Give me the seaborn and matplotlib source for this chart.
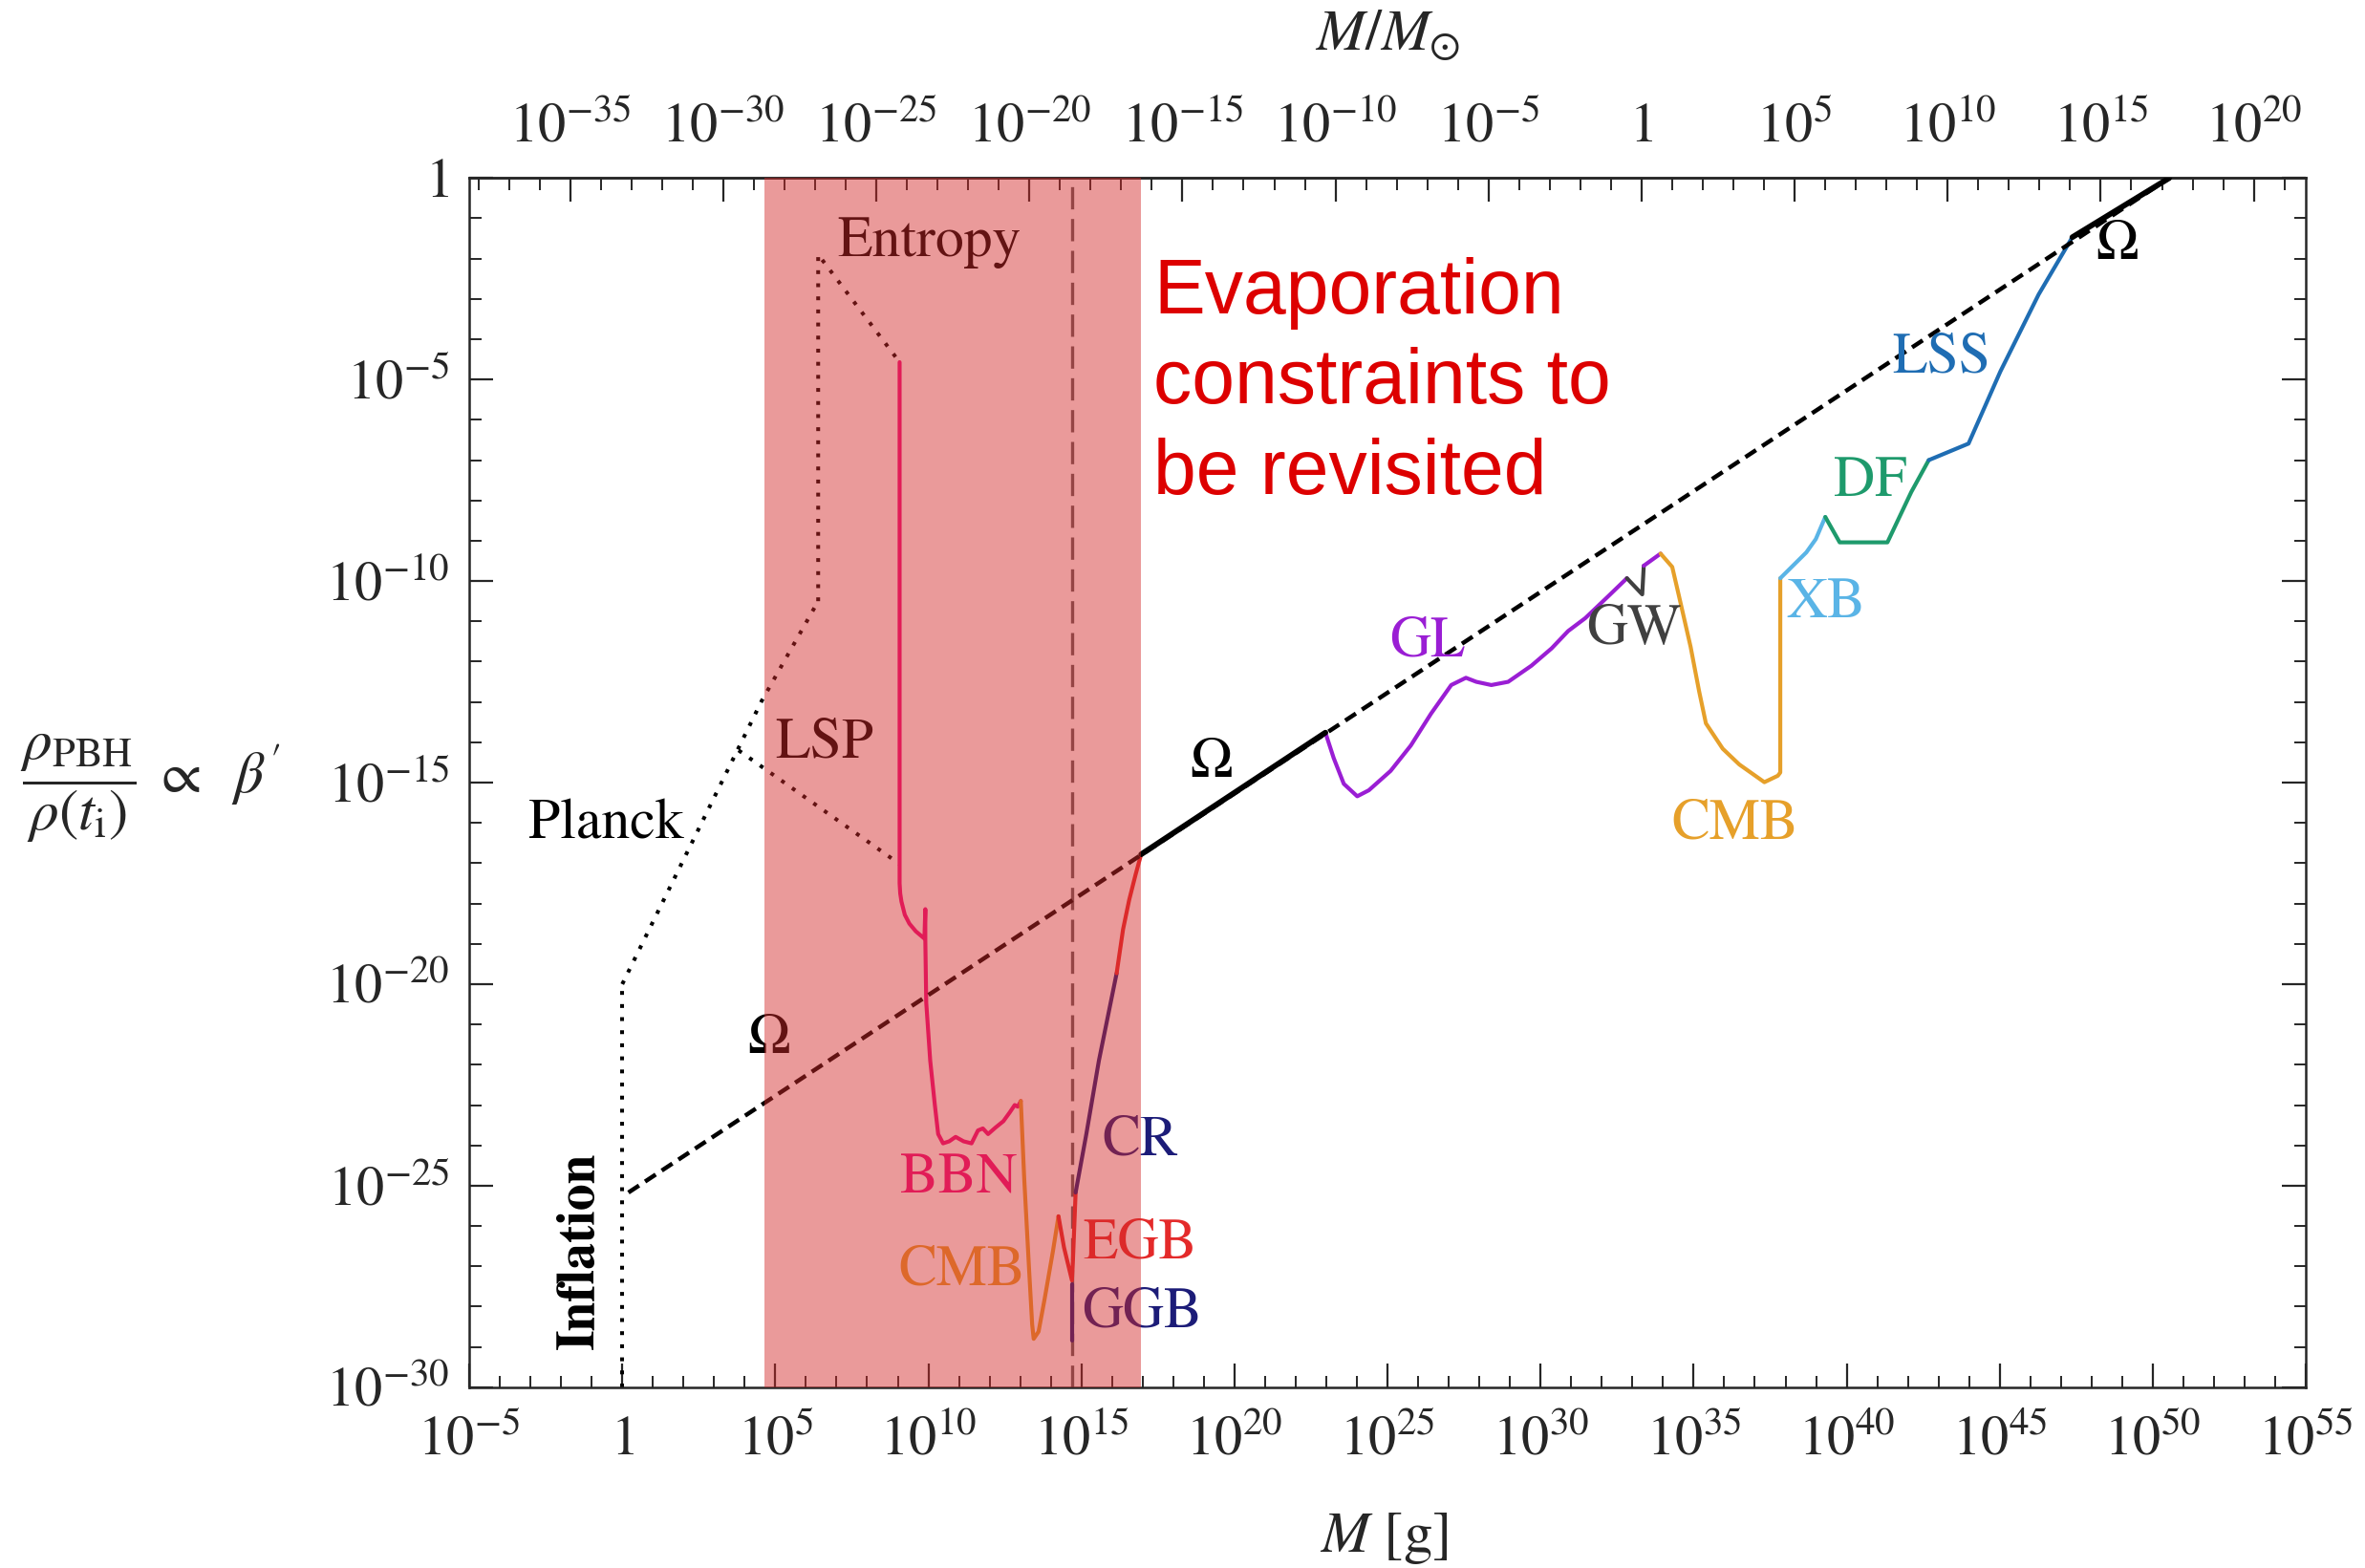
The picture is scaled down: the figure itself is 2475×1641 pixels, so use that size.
import numpy as np
import pandas as pd
import matplotlib
matplotlib.use("Agg")
import matplotlib.pyplot as plt
from matplotlib.ticker import FixedLocator, NullFormatter
import seaborn as sns

# All values are decimal exponents: log10(M / g) and log10(beta')
omega_logM = [0.2, 50.54]
omega_logb = [-25.17, 0.0]
omega_lo_logM = [16.95, 22.97]
omega_lo_logb = [-16.78, -13.76]
omega_hi_logM = [47.37, 50.54]
omega_hi_logb = [-1.47, 0.0]

inflation_logM = [0.0, 0.0]
inflation_logb = [-30.0, -20.0]
planck_logM = [0.0, 4.55, 6.4]
planck_logb = [-20.0, -12.98, -10.5]
entropy_logM = [6.4, 6.4, 9.06]
entropy_logb = [-10.5, -1.9, -4.57]
lsp_logM = [3.8, 9.06]
lsp_logb = [-14.2, -17.02]

bbn_logM = [9.06, 9.06, 9.08, 9.12, 9.23, 9.38, 9.59, 9.87, 9.90, 9.90, 9.93, 10.06,
            10.21, 10.32, 10.48, 10.68, 10.89, 11.15, 11.41, 11.62, 11.78, 11.95,
            12.19, 12.45, 12.66, 12.82, 12.92, 13.02]
bbn_logb = [-4.57, -17.5, -17.75, -17.95, -18.28, -18.5, -18.69, -18.87, -18.14, -18.9,
            -20.46, -21.9, -22.99, -23.72, -23.95, -23.9, -23.79, -23.9, -23.95, -23.63,
            -23.58, -23.72, -23.56, -23.4, -23.18, -23.0, -23.04, -22.9]

cmb_lo_logM = [13.02, 13.13, 13.29, 13.39, 13.44, 13.6, 13.8, 14.07, 14.25]
cmb_lo_logb = [-22.9, -24.81, -27.08, -28.44, -28.8, -28.62, -27.8, -26.62, -25.76]
egb_a_logM = [14.25, 14.43, 14.69, 14.72, 14.81]
egb_a_logb = [-25.76, -26.53, -27.35, -26.9, -25.17]
ggb_logM = [14.70, 14.70]
ggb_logb = [-27.45, -28.85]
cr_logM = [14.81, 15.16, 15.57, 16.15]
cr_logb = [-25.17, -23.72, -21.9, -19.73]
egb_b_logM = [16.15, 16.36, 16.56, 16.77, 16.95]
egb_b_logb = [-19.73, -18.64, -17.91, -17.28, -16.78]

gl_logM = [22.97, 23.24, 23.57, 24.01, 24.39, 25.1, 25.76, 26.42, 27.08, 27.56, 27.9,
           28.39, 28.94, 29.7, 30.36, 30.9, 31.46, 32.22, 32.82]
gl_logb = [-13.76, -14.39, -15.03, -15.34, -15.19, -14.71, -14.08, -13.29, -12.58, -12.4,
           -12.5, -12.58, -12.5, -12.1, -11.67, -11.24, -10.92, -10.37, -9.93]
gw_logM = [32.82, 33.32, 33.37]
gw_logb = [-9.93, -10.33, -9.62]
gl2_logM = [33.37, 33.92]
gl2_logb = [-9.62, -9.32]
cmb_hi_logM = [33.92, 34.3, 34.52, 34.9, 35.18, 35.4, 35.95, 36.49, 37.31, 37.75, 37.83, 37.83]
cmb_hi_logb = [-9.32, -9.65, -10.37, -11.63, -12.74, -13.53, -14.16, -14.55, -14.99, -14.83,
               -14.75, -9.93]
xb_logM = [37.83, 38.68, 38.99, 39.3]
xb_logb = [-9.93, -9.29, -8.96, -8.41]
df_logM = [39.3, 39.77, 41.33, 42.11, 42.68]
df_logb = [-8.41, -9.04, -9.04, -7.79, -7.0]
lss_logM = [42.68, 43.98, 45.02, 46.27, 47.37]
lss_logb = [-7.0, -6.59, -4.8, -2.89, -1.47]

evap_line_logM = 14.7
shade_logM = [4.63, 16.95]

x_major = list(range(-5, 56, 5))
y_major = list(range(-30, 1, 5))
top_major = list(range(-35, 21, 5))
M_SUN = 1.989e33

c_bbn = "#EE1180"
c_cmb = "#E6A02A"
c_egb = "#E42A2A"
c_cr = "#1C1C78"
c_gl = "#9A1ED4"
c_gw = "#404040"
c_xb = "#5AB4E6"
c_df = "#1E9A6C"
c_lss = "#1F6DB3"

labels = [
    ("Entropy", 10.02, -1.61, "black"),
    ("LSP", 6.61, -14.03, "black"),
    ("Planck", -0.53, -16.05, "black"),
    ("BBN", 11.0, -24.84, c_bbn),
    ("CMB", 11.1, -27.12, c_cmb),
    ("CR", 16.92, -23.9, c_cr),
    ("EGB", 16.92, -26.45, c_egb),
    ("GGB", 16.96, -28.17, c_cr),
    ("GL", 26.3, -11.52, c_gl),
    ("GW", 33.03, -11.23, c_gw),
    ("CMB", 36.34, -16.05, c_cmb),
    ("XB", 39.33, -10.55, c_xb),
    ("DF", 40.77, -7.56, c_df),
    ("LSS", 43.11, -4.49, c_lss),
    ("\u03a9", 4.8, -21.4, "black"),
    ("\u03a9", 19.23, -14.55, "black"),
    ("\u03a9", 48.83, -1.69, "black"),
]

sns.set_style("ticks")
plt.rcParams["font.family"] = ["STIXGeneral", "DejaVu Serif"]
plt.rcParams["mathtext.fontset"] = "stix"

fig = plt.figure(figsize=(24.75, 16.41), dpi=100)
ax = fig.add_axes([0.1984, 0.1153, 0.7766, 0.7712])
ax.set_xscale("log")
ax.set_yscale("log")


def draw(logM, logb, color, lw=3.0, ls="-", z=2):
    d = pd.DataFrame({"M": np.power(10.0, logM), "beta": np.power(10.0, logb)})
    sns.lineplot(data=d, x="M", y="beta", sort=False, estimator=None, color=color,
                 linewidth=lw, linestyle=ls, ax=ax, legend=False, zorder=z)


dotted = (0, (1, 2.4))
draw(inflation_logM, inflation_logb, "black", lw=2.9, ls=dotted)
draw(planck_logM, planck_logb, "black", lw=2.9, ls=dotted)
draw(entropy_logM, entropy_logb, "black", lw=2.9, ls=dotted)
draw(lsp_logM, lsp_logb, "black", lw=2.9, ls=dotted)

draw([evap_line_logM, evap_line_logM], [-30, 0], "#5e5e5e", lw=2.4, ls=(0, (7, 3)), z=1.5)

draw(bbn_logM, bbn_logb, c_bbn)
draw(cmb_lo_logM, cmb_lo_logb, c_cmb)
draw(egb_a_logM, egb_a_logb, c_egb)
draw(ggb_logM, ggb_logb, c_cr)
draw(cr_logM, cr_logb, c_cr)
draw(egb_b_logM, egb_b_logb, c_egb)
draw(gl_logM, gl_logb, c_gl)
draw(gw_logM, gw_logb, c_gw)
draw(gl2_logM, gl2_logb, c_gl)
draw(cmb_hi_logM, cmb_hi_logb, c_cmb)
draw(xb_logM, xb_logb, c_xb)
draw(df_logM, df_logb, c_df)
draw(lss_logM, lss_logb, c_lss)

draw(omega_lo_logM, omega_lo_logb, "black", lw=4.2, z=2.6)
draw(omega_hi_logM, omega_hi_logb, "black", lw=4.2, z=2.6)
draw(omega_logM, omega_logb, "black", lw=3.2, ls=(0, (3.0, 1.7)), z=2.7)

for txt, lm, lb, col in labels:
    ax.text(10.0 ** lm, 10.0 ** lb, txt, color=col, fontsize=43, ha="center",
            va="center", zorder=3)
ax.text(10.0 ** -1.36, 10.0 ** -26.6, "Inflation", color="black", fontsize=40,
        fontweight="bold", rotation=90, ha="center", va="center", zorder=3)

ax.axvspan(10.0 ** shade_logM[0], 10.0 ** shade_logM[1], facecolor="#D42A2A",
           alpha=0.47, lw=0, zorder=4)

ax.text(10.0 ** 17.35, 10.0 ** -1.95, "Evaporation\nconstraints to\nbe revisited",
        color="#DD0000", fontsize=58, family=["Liberation Sans", "DejaVu Sans"],
        ha="left", va="top", linespacing=1.32, zorder=6)

ax.set_xlim(1e-5, 1e55)
ax.set_ylim(1e-30, 1)


def powlab(k):
    return "$1$" if k == 0 else "$10^{%d}$" % k


ax.set_xticks([10.0 ** k for k in x_major], labels=[powlab(k) for k in x_major])
ax.set_yticks([10.0 ** k for k in y_major], labels=[powlab(k) for k in y_major])
ax.xaxis.set_minor_locator(FixedLocator([10.0 ** k for k in range(-5, 56)]))
ax.yaxis.set_minor_locator(FixedLocator([10.0 ** k for k in range(-30, 1)]))
ax.xaxis.set_minor_formatter(NullFormatter())
ax.yaxis.set_minor_formatter(NullFormatter())
ax.tick_params(which="both", direction="in", top=False, right=True, labelsize=42)
ax.tick_params(which="major", length=18, width=1.6)
ax.tick_params(which="minor", length=9, width=1.4)
ax.tick_params(axis="x", which="major", pad=22)
ax.tick_params(axis="y", which="major", pad=15)
for sp in ax.spines.values():
    sp.set_linewidth(1.8)
    sp.set_visible(True)

sec = ax.secondary_xaxis("top", functions=(lambda m: m / M_SUN, lambda r: r * M_SUN))
sec.set_xticks([10.0 ** k for k in top_major], labels=[powlab(k) for k in top_major])
sec.xaxis.set_minor_locator(FixedLocator([10.0 ** k for k in range(-38, 23)]))
sec.xaxis.set_minor_formatter(NullFormatter())
sec.tick_params(which="both", direction="in", labelsize=42, pad=18)
sec.tick_params(which="major", length=18, width=1.6)
sec.tick_params(which="minor", length=9, width=1.4)
sec.spines["top"].set_linewidth(1.8)
ax.text(0.5, 1.118, r"$M/M_{\odot}$", transform=ax.transAxes, fontsize=44,
        ha="center", va="center")

ax.set_xlabel(r"$M\ [\mathrm{g}]$", fontsize=44, va="center")
ax.xaxis.set_label_coords(0.498, -0.125)
ax.set_ylabel(r"$\dfrac{\rho_{\mathrm{PBH}}}{\rho(t_{\mathrm{i}})}\;\propto\;\;\beta'$",
              fontsize=44, rotation=0, ha="center", va="center")
ax.yaxis.set_label_coords(-0.174, 0.495)

fig.savefig("out.png", dpi=100, facecolor="white")
